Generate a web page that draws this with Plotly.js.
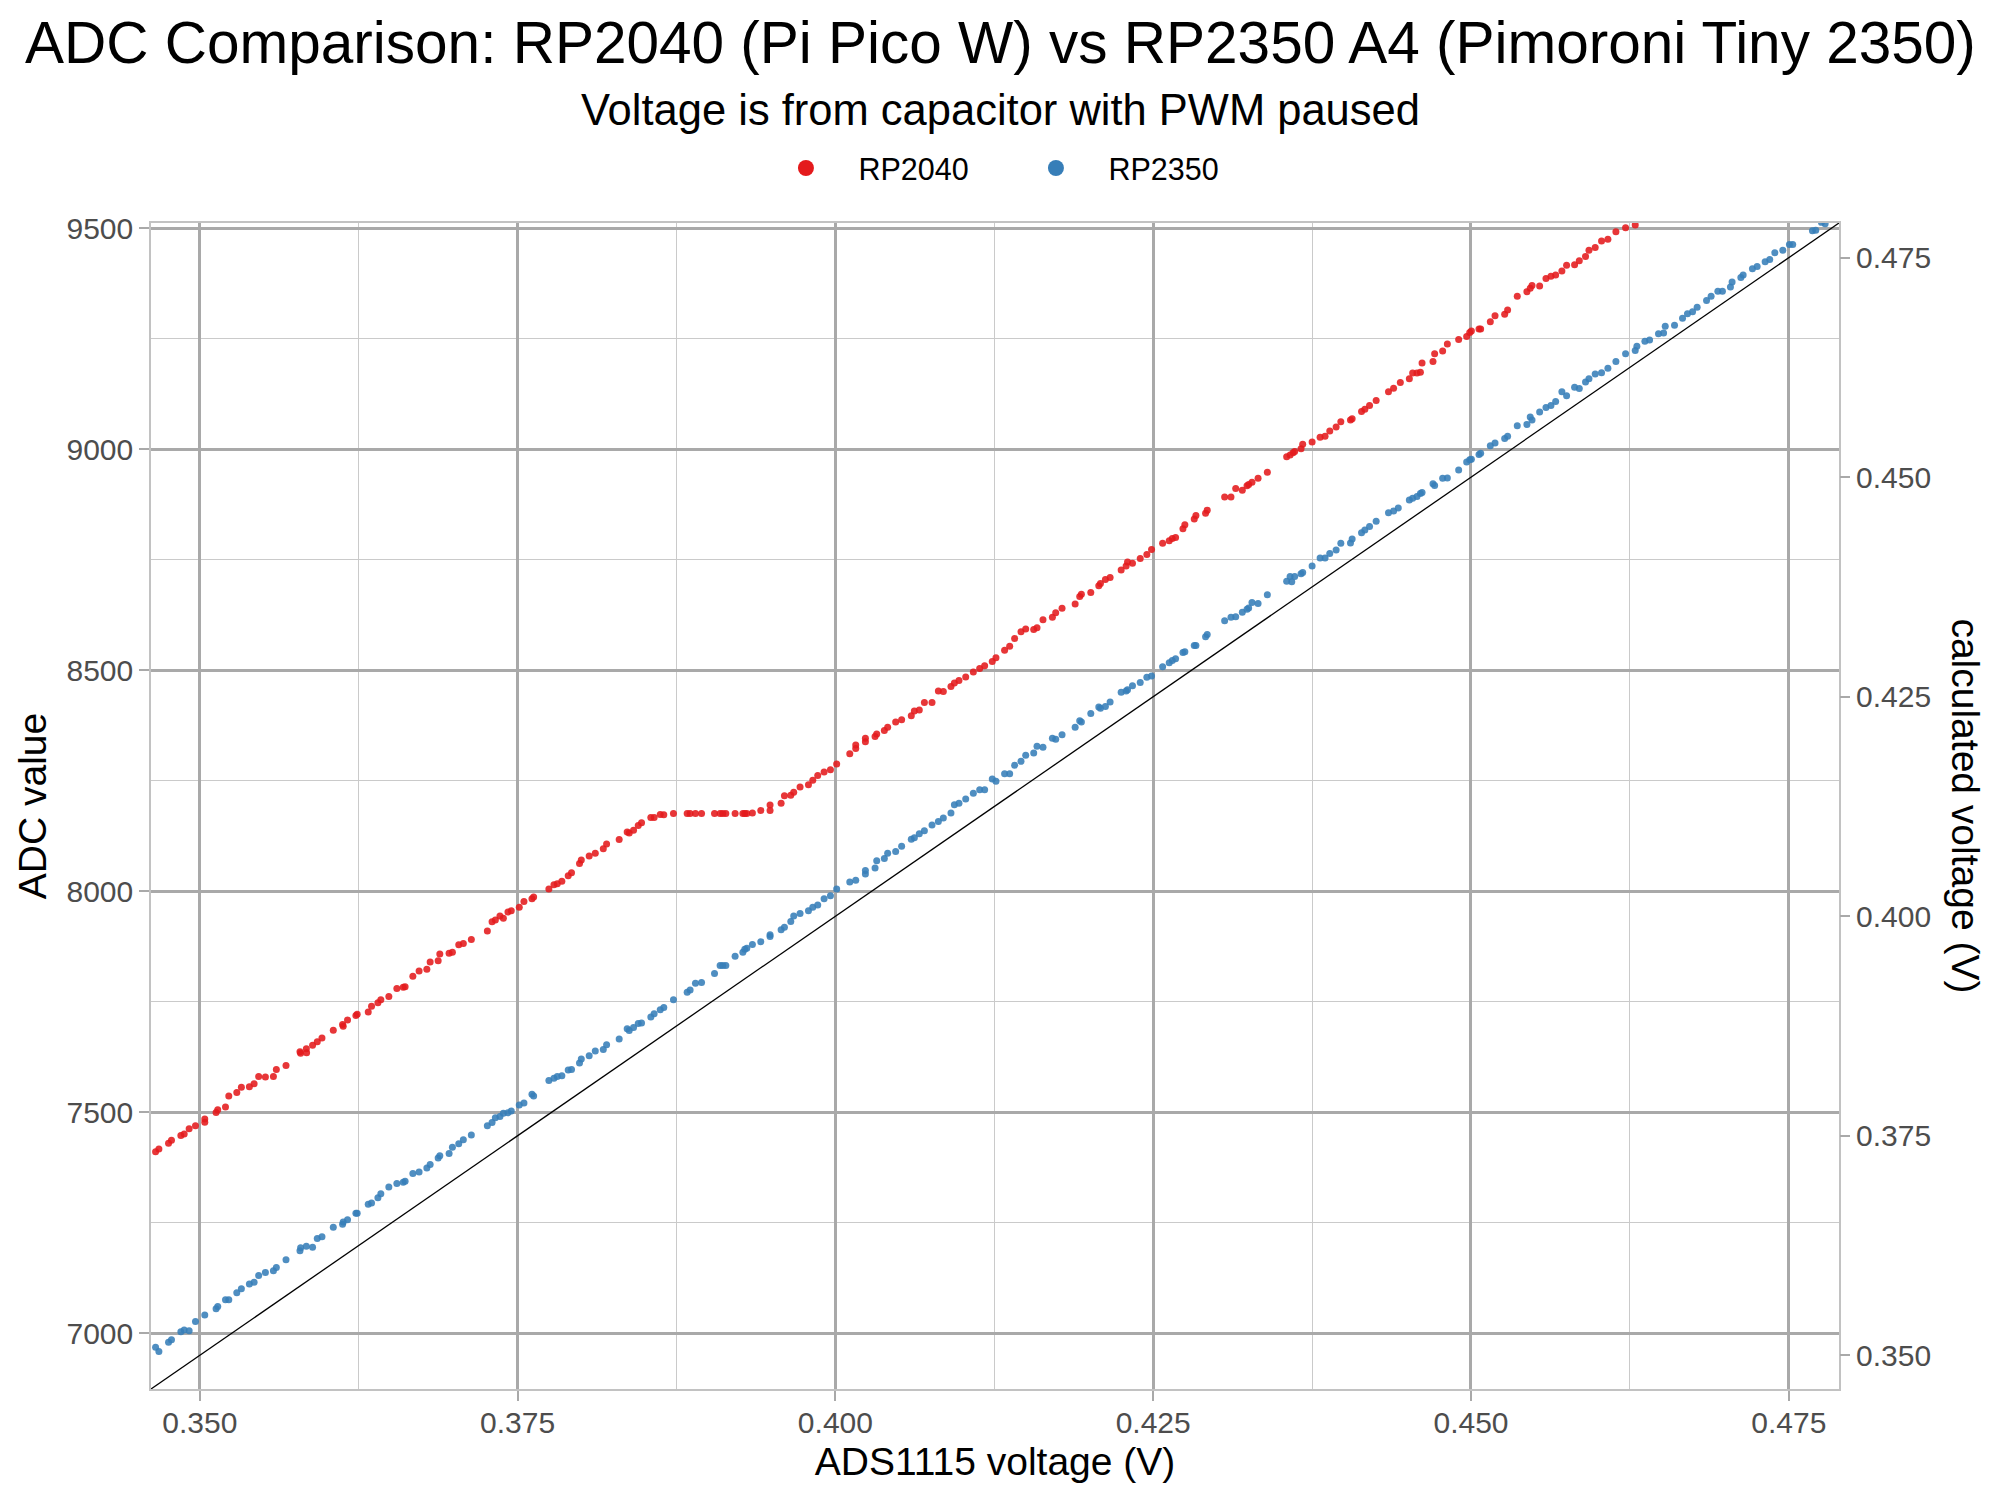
<!DOCTYPE html>
<html>
<head>
<meta charset="utf-8">
<script src="https://cdn.plot.ly/plotly-3.0.1.min.js"></script>
<style>html,body{margin:0;padding:0;background:#fff;}#chart{width:2000px;height:1500px;}</style>
</head>
<body>
<div id="chart"></div>
<script>
// ---- data ----
const seriesNames = ["RP2040", "RP2350"];

const rp2040Voltage = [0.34652,0.34678,0.34754,0.34777,0.34851,0.34877,0.34916,0.34966,0.35039,0.35039,0.35128,0.35141,0.35202,0.35228,0.35291,0.35327,0.35390,0.35427,0.35463,0.35516,0.35579,0.35602,0.35678,0.35788,0.35793,0.35838,0.35840,0.35887,0.35924,0.35961,0.36050,0.36123,0.36128,0.36162,0.36228,0.36238,0.36325,0.36351,0.36401,0.36424,0.36487,0.36550,0.36600,0.36615,0.36676,0.36725,0.36786,0.36812,0.36875,0.36888,0.36961,0.36987,0.37037,0.37073,0.37136,0.37262,0.37299,0.37325,0.37361,0.37388,0.37424,0.37450,0.37513,0.37550,0.37613,0.37626,0.37746,0.37786,0.37812,0.37848,0.37898,0.37924,0.37987,
0.38001,0.38063,0.38111,0.38174,0.38200,0.38299,0.38362,0.38378,0.38412,0.38449,0.38475,0.38548,0.38574,0.38622,0.38650,0.38726,0.38834,0.38857,0.38899,0.38947,0.39049,0.39093,0.39114,0.39138,0.39211,0.39272,0.39287,0.39303,0.39347,0.39413,0.39486,0.39486,0.39573,0.39599,0.39649,0.39672,0.39722,0.39788,0.39822,0.39861,0.39911,0.39961,0.40010,0.40113,0.40160,0.40160,0.40236,0.40236,0.40312,0.40325,0.40385,0.40411,0.40474,0.40521,0.40597,0.40621,0.40660,0.40700,0.40760,0.40810,0.40849,0.40909,0.40936,0.40972,0.41025,0.41085,0.41135,0.41174,0.41234,0.41263,
0.41331,0.41371,0.41410,0.41460,0.41497,0.41560,0.41586,0.41633,0.41707,0.41733,0.41783,0.41886,0.41922,0.41935,0.42009,0.42072,0.42085,0.42124,0.42161,0.42248,0.42287,0.42298,0.42337,0.42398,0.42450,0.42487,0.42574,0.42626,0.42650,0.42676,0.42734,0.42749,0.42823,0.42836,0.42912,0.42925,0.43062,0.43112,0.43149,0.43201,0.43238,0.43251,0.43277,0.43325,0.43398,0.43550,0.43577,0.43600,0.43613,0.43663,0.43676,0.43750,0.43813,0.43852,0.43889,0.43939,0.43976,0.44052,0.44065,0.44139,0.44165,0.44202,0.44254,0.44351,0.44391,
0.44444,0.44515,0.44541,0.44575,0.44602,0.44615,0.44701,0.44714,0.44777,0.44814,0.44903,0.44966,0.44990,0.45003,0.45063,0.45076,0.45152,0.45189,0.45265,0.45288,0.45364,0.45440,0.45466,0.45480,0.45540,0.45590,0.45629,0.45666,0.45715,0.45752,0.45815,0.45852,0.45901,0.45928,0.45977,0.46027,0.46077,0.46140,0.46216,0.46292];

const rp2040Adc = [7411,7417,7430,7437,7448,7451,7463,7470,7485,7478,7500,7506,7512,7537,7545,7557,7558,7565,7581,7580,7581,7597,7606,7637,7634,7644,7635,7652,7660,7668,7686,7699,7695,7709,7719,7722,7727,7740,7748,7755,7762,7780,7783,7784,7808,7820,7824,7840,7843,7858,7860,7862,7879,7882,7891,7910,7931,7935,7944,7939,7953,7956,7964,7977,7983,7987,8005,8015,8017,8023,8035,8042,8063,
8071,8080,8086,8096,8107,8117,8134,8132,8138,8149,8155,8167,8167,8174,8173,8176,8176,8176,8176,8176,8176,8176,8176,8176,8176,8176,8176,8176,8177,8183,8195,8183,8199,8216,8217,8224,8236,8241,8251,8262,8270,8275,8288,8311,8323,8331,8338,8346,8350,8356,8364,8371,8383,8388,8397,8408,8410,8427,8427,8453,8452,8463,8471,8477,8485,8496,8504,8510,8520,8528,
8545,8554,8572,8587,8593,8592,8596,8614,8620,8630,8640,8650,8667,8672,8676,8691,8696,8705,8710,8727,8736,8745,8742,8753,8762,8773,8787,8793,8798,8800,8820,8829,8842,8850,8855,8862,8892,8892,8911,8907,8917,8920,8925,8934,8948,8983,8987,8992,8995,9001,9011,9016,9027,9029,9041,9050,9062,9066,9069,9085,9090,9099,9110,9130,9138,
9151,9159,9172,9172,9174,9195,9198,9216,9222,9238,9248,9255,9264,9267,9272,9272,9288,9302,9305,9315,9346,9356,9364,9370,9369,9386,9391,9394,9403,9416,9417,9426,9436,9450,9456,9471,9475,9492,9501,9507];

const rp2350Voltage = [0.34652,0.34678,0.34754,0.34777,0.34851,0.34877,0.34916,0.34966,0.35039,0.35128,0.35141,0.35202,0.35228,0.35291,0.35327,0.35390,0.35427,0.35463,0.35516,0.35579,0.35602,0.35678,0.35788,0.35793,0.35838,0.35887,0.35924,0.35961,0.36050,0.36123,0.36128,0.36162,0.36228,0.36238,0.36325,0.36351,0.36401,0.36424,0.36487,0.36550,0.36600,0.36615,0.36676,0.36725,0.36786,0.36812,0.36875,0.36888,0.36961,0.36987,0.37037,0.37073,0.37136,0.37262,0.37299,0.37325,0.37361,0.37388,0.37424,0.37450,0.37513,0.37550,0.37613,0.37626,0.37746,0.37786,0.37812,0.37848,0.37898,0.37924,0.37987,
0.38001,0.38063,0.38111,0.38174,0.38200,0.38299,0.38362,0.38378,0.38412,0.38449,0.38475,0.38548,0.38574,0.38622,0.38650,0.38726,0.38834,0.38857,0.38899,0.38947,0.39049,0.39093,0.39114,0.39138,0.39211,0.39272,0.39287,0.39303,0.39347,0.39413,0.39486,0.39486,0.39573,0.39599,0.39649,0.39672,0.39722,0.39788,0.39822,0.39861,0.39911,0.39961,0.40010,0.40113,0.40160,0.40236,0.40236,0.40312,0.40325,0.40385,0.40411,0.40474,0.40521,0.40597,0.40621,0.40660,0.40700,0.40760,0.40810,0.40849,0.40909,0.40936,0.40972,0.41025,0.41085,0.41135,0.41174,0.41234,0.41263,
0.41331,0.41371,0.41410,0.41460,0.41497,0.41560,0.41586,0.41633,0.41707,0.41733,0.41783,0.41886,0.41922,0.41935,0.42009,0.42072,0.42085,0.42124,0.42161,0.42248,0.42287,0.42298,0.42337,0.42398,0.42450,0.42487,0.42574,0.42626,0.42650,0.42676,0.42734,0.42749,0.42823,0.42836,0.42912,0.42925,0.43062,0.43112,0.43149,0.43201,0.43238,0.43251,0.43277,0.43325,0.43398,0.43550,0.43577,0.43590,0.43613,0.43663,0.43676,0.43750,0.43813,0.43852,0.43889,0.43939,0.43976,0.44052,0.44065,0.44139,0.44165,0.44202,0.44254,0.44351,0.44391,0.44428,
0.44515,0.44541,0.44575,0.44602,0.44615,0.44701,0.44714,0.44777,0.44814,0.44903,0.44966,0.44990,0.45003,0.45063,0.45076,0.45152,0.45189,0.45265,0.45288,0.45364,0.45440,0.45466,0.45480,0.45540,0.45590,0.45629,0.45666,0.45715,0.45752,0.45815,0.45852,0.45901,0.45928,0.45977,0.46027,0.46077,0.46140,0.46216,0.46292,0.46305,0.46368,0.46405,0.46475,0.46515,0.46528,0.46601,0.46664,0.46703,0.46743,0.46779,0.46853,0.46889,0.46942,0.46978,0.47041,0.47054,0.47123,0.47141,0.47214,0.47251,0.47314,0.47350,0.47390,0.47453,0.47505,0.47531,0.47686,0.47712,0.47757,0.47786];

const rp2350Adc = [6969,6959,6980,6986,7004,7008,7006,7027,7042,7056,7061,7076,7076,7092,7101,7112,7116,7131,7138,7142,7149,7167,7187,7194,7197,7195,7215,7219,7240,7247,7252,7257,7272,7272,7292,7295,7307,7316,7331,7339,7342,7344,7362,7365,7374,7382,7397,7402,7407,7421,7429,7438,7449,7470,7477,7488,7491,7498,7499,7503,7517,7521,7541,7537,7572,7577,7581,7583,7596,7597,7612,
7621,7628,7639,7642,7653,7666,7689,7685,7692,7701,7702,7716,7723,7732,7737,7755,7772,7777,7792,7794,7814,7832,7832,7832,7853,7862,7869,7871,7880,7886,7902,7898,7913,7919,7932,7944,7950,7956,7964,7969,7983,7990,8005,8021,8025,8039,8047,8053,8069,8074,8086,8090,8102,8118,8121,8130,8137,8150,8158,8166,8177,8196,8199,8209,8222,8230,8230,8254,8249,
8266,8266,8285,8294,8308,8313,8328,8326,8346,8344,8354,8371,8386,8383,8402,8417,8414,8418,8428,8450,8453,8456,8465,8472,8484,8487,8508,8517,8522,8526,8540,8542,8556,8556,8576,8581,8612,8620,8621,8631,8638,8641,8653,8651,8671,8701,8712,8700,8712,8718,8721,8736,8754,8754,8764,8772,8787,8788,8797,8811,8817,8825,8837,8856,8860,8867,
8885,8889,8893,8900,8902,8922,8918,8934,8935,8953,8971,8976,8977,8988,8991,9008,9014,9024,9029,9053,9056,9073,9066,9084,9094,9099,9108,9130,9121,9140,9137,9152,9159,9170,9173,9183,9198,9216,9223,9233,9244,9247,9261,9263,9278,9280,9296,9306,9311,9321,9336,9346,9357,9357,9367,9378,9388,9394,9408,9413,9424,9429,9444,9450,9463,9463,9494,9495,9513,9510];

// ideal line: calculated voltage equals ADS1115 voltage
const idealVoltage = [0.30, 0.50];

const xTickVals = [0.350, 0.375, 0.400, 0.425, 0.450, 0.475];
const yTickVals = [7000, 7500, 8000, 8500, 9000, 9500];
const y2TickVals = [0.350, 0.375, 0.400, 0.425, 0.450, 0.475];

// ---- chart ----
const ADC_PER_VOLT = 65535 / 3.3;
const X_RANGE = [0.34616, 0.47895];
const Y_RANGE = X_RANGE.map(v => v * ADC_PER_VOLT);

const FONT = "Liberation Sans, Arial, Helvetica, sans-serif";
const TICK_FONT = {family: FONT, size: 30, color: "#4d4d4d"};
const MAJOR = "#a9a9a9", MINOR = "#cacaca", BORDER = "#c2c2c2";
const COLORS = ["#E41A1C", "#377EB8"];

const traces = [
  {
    type: "scatter", mode: "lines", x: idealVoltage, y: idealVoltage,
    xaxis: "x", yaxis: "y2", line: {color: "#000000", width: 1.3},
    showlegend: false, hoverinfo: "skip"
  },
  {
    type: "scatter", mode: "markers", name: seriesNames[0], showlegend: false,
    x: rp2040Voltage, y: rp2040Adc,
    marker: {color: COLORS[0], size: 7, opacity: 0.88, line: {width: 0}}
  },
  {
    type: "scatter", mode: "markers", name: seriesNames[1], showlegend: false,
    x: rp2350Voltage, y: rp2350Adc,
    marker: {color: COLORS[1], size: 7, opacity: 0.88, line: {width: 0}}
  },
  // legend keys (larger symbols, as in the reference legend)
  {
    type: "scatter", mode: "markers", name: seriesNames[0], x: [null], y: [null],
    marker: {color: COLORS[0], size: 16}, hoverinfo: "skip"
  },
  {
    type: "scatter", mode: "markers", name: seriesNames[1], x: [null], y: [null],
    marker: {color: COLORS[1], size: 16}, hoverinfo: "skip"
  }
];

const axisCommon = {
  showline: true, linecolor: BORDER, linewidth: 1.5,
  ticks: "outside", ticklen: 10, tickwidth: 1.5, tickcolor: MAJOR,
  tickfont: TICK_FONT, zeroline: false,
  showgrid: true, gridcolor: MAJOR, gridwidth: 3
};

const layout = {
  width: 2000, height: 1500,
  paper_bgcolor: "#ffffff", plot_bgcolor: "#ffffff",
  font: {family: FONT, color: "#000000"},
  margin: {l: 151, r: 161, t: 223, b: 111, pad: 0},
  showlegend: true,
  legend: {
    orientation: "h", x: 0.505, xanchor: "center", y: 1.047, yanchor: "middle",
    font: {family: FONT, size: 30.5, color: "#000000"}, itemwidth: 95, entrywidth: 140,
    bgcolor: "rgba(0,0,0,0)", traceorder: "normal", itemsizing: "trace"
  },
  xaxis: Object.assign({}, axisCommon, {
    range: X_RANGE, tickvals: xTickVals, tickformat: ".3f", mirror: true, ticklabelstandoff: -4,
    minor: {dtick: 0.0125, tick0: 0.35, showgrid: true, gridcolor: MINOR, gridwidth: 1.2, ticks: ""},
    title: {text: "ADS1115 voltage (V)", font: {family: FONT, size: 39, color: "#000000"}, standoff: 10}
  }),
  yaxis: Object.assign({}, axisCommon, {
    range: Y_RANGE, tickvals: yTickVals, tickformat: "d", mirror: true,
    minor: {dtick: 250, tick0: 7000, showgrid: true, gridcolor: MINOR, gridwidth: 1.2, ticks: ""},
    title: {text: "ADC value", font: {family: FONT, size: 39, color: "#000000"}, standoff: 8}
  }),
  yaxis2: {
    overlaying: "y", side: "right", range: X_RANGE, tickvals: y2TickVals, tickformat: ".3f",
    showgrid: false, zeroline: false, showline: false,
    ticks: "outside", ticklen: 10, tickwidth: 1.5, tickcolor: MAJOR, tickfont: TICK_FONT
  },
  annotations: [
    {text: "ADC Comparison: RP2040 (Pi Pico W) vs RP2350 A4 (Pimoroni Tiny 2350)",
     xref: "paper", yref: "paper", x: 0.503, y: 1.1545, xanchor: "center", yanchor: "middle",
     showarrow: false, font: {family: FONT, size: 58.5, color: "#000000"}},
    {text: "Voltage is from capacitor with PWM paused",
     xref: "paper", yref: "paper", x: 0.503, y: 1.097, xanchor: "center", yanchor: "middle",
     showarrow: false, font: {family: FONT, size: 43.5, color: "#000000"}},
    {text: "calculated voltage (V)",
     xref: "paper", yref: "paper", x: 1.075, y: 0.5, xanchor: "center", yanchor: "middle",
     textangle: 90, showarrow: false, font: {family: FONT, size: 39, color: "#000000"}}
  ]
};

Plotly.newPlot("chart", traces, layout, {displayModeBar: false, responsive: false});
</script>
</body>
</html>
